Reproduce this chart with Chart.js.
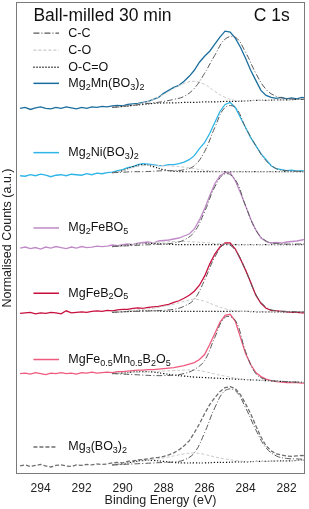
<!DOCTYPE html>
<html>
<head>
<meta charset="utf-8">
<script src="https://cdn.jsdelivr.net/npm/chart.js@4.4.0/dist/chart.umd.min.js"></script>
<style>
  html, body { margin: 0; padding: 0; background: #fff; }
</style>
</head>
<body>
<canvas id="xpsChart" width="309" height="509"></canvas>
<script>
// binding energy grid of the measured spectra (eV)
const energy = [
  295, 294.75, 294.5, 294.25,
  294, 293.75, 293.5, 293.25,
  293, 292.75, 292.5, 292.25,
  292, 291.75, 291.5, 291.25,
  291, 290.75, 290.5, 290.25,
  290, 289.75, 289.5, 289.25,
  289, 288.75, 288.5, 288.25,
  288, 287.75, 287.5, 287.25,
  287, 286.75, 286.5, 286.25,
  286, 285.75, 285.5, 285.25,
  285, 284.75, 284.5, 284.25,
  284, 283.75, 283.5, 283.25,
  283, 282.75, 282.5, 282.25,
  282, 281.75, 281.5, 281.25,
  281
];
// energy grid of the fitted components (eV)
const fitEnergy = [290.5, 290, 289.5, 289, 288.5, 288, 287.5, 287, 286.5, 286,
                   285.5, 285, 284.5, 284, 283.5, 283, 282.5, 282, 281.5, 281];

const samples = ['Mg_{2}Mn(BO_{3})_{2}', 'Mg_{2}Ni(BO_{3})_{2}', 'Mg_{2}FeBO_{5}',
                 'MgFeB_{2}O_{5}', 'MgFe_{0.5}Mn_{0.5}B_{2}O_{5}', 'Mg_{3}(BO_{3})_{2}'];
const componentNames = ['C-C', 'C-O', 'O-C=O'];
// vertical stacking offset of each spectrum
const offsets = [364, 297, 225, 160, 100, 8];
const xTicks = [294, 292, 290, 288, 286, 284, 282];

// ---- measured counts ----
const mnCounts = [
  0, 1, -1, 0.5,   1.5, 0, -0.5, 1,   0, 1.5, 0.5, -0.5,   1, 0, 1.5, 1,
  2, 1.5, 2.5, 3,   2.5, 4, 4.5, 5,   6, 7, 9, 11,   15, 18, 21, 23,
  27, 32, 38, 46,   52, 57, 64, 71,   77, 76, 70, 61,   50, 38, 28, 18,
  13, 11, 10, 11,   9.5, 10.5, 9.5, 11,   10
];
const niCounts = [
  0, -0.5, 1, 0,   1.5, 0.5, -1, 0.5,   1, 0, 1.5, 1,   0.5, 2, 1, 2.5,
  2, 3, 3.5, 5,   6, 8, 9, 11,   12, 11.5, 11, 10,   10, 11, 11, 12,
  13.5, 16, 20, 27,   33, 42, 53, 64,   71, 73, 68, 58,   48, 38, 30, 22,
  16, 10, 7, 6,   5, 5.5, 4.5, 5,   4
];
const feBoCounts = [
  0, 1, -0.5, 0.5,   -1, 1, 0, 1.5,   0.5, -0.5, 1, 0,   1.5, 0.5, 1, 2,
  1.5, 2, 3, 2.5,   3.5, 4, 3.5, 5,   5.5, 6, 5, 7,   7.5, 8, 9, 10,
  12, 14, 19, 28,   39, 52, 64, 72,   75, 75, 67, 55,   42, 29, 18, 10,
  6.5, 5, 5.5, 5,   6, 6.5, 7, 8,   9
];
const feB2Counts = [
  0, 0.5, 1, -0.5,   0.5, 0, 1, 0.5,   -0.5, 2.5, 0.5, 1,   1.5, 1, 2, 2.5,
  2, 3, 2.5, 3.5,   4, 4, 5, 5.5,   5, 6, 6.5, 7,   8, 9, 11, 12.5,
  15, 18, 22, 28,   37, 49, 59, 66,   70, 70, 64, 54,   43, 31, 18, 10,
  5, 3, 2.5, 2,   1.5, 1, 1, 0.5,   0.5
];
const feMnCounts = [
  0, 0.5, -0.5, 1,   0, -1, 0.5, 0,   1, 0, 0.5, -0.5,   1, 0.5, 1.5, 0.5,
  1, 1.5, 1, 2,   2, 2.5, 3, 3.5,   3.5, 4, 4, 4.5,   5, 5.5, 6, 7,
  8, 9.5, 11, 14,   19, 29, 40, 51,   58, 59, 52, 36,   20, 9, 1, -3,
  -5.5, -7, -8, -8.5,   -9, -9, -9, -9.5,   -9.5
];
const mg3Counts = [
  0, 1, -0.5, 0.5,   1.5, 0, -1, 0.5,   1, 0, -0.5, 1,   0.5, 1.5, 1, 2,
  1.5, 2, 3, 3.5,   3, 4.5, 5, 6,   6.5, 7, 8, 8.5,   9.5, 11, 13, 16,
  20, 25, 33, 42,   52, 61, 68, 74,   78, 79, 77, 71,   62, 52, 40, 29,
  20, 15, 12, 11,   10, 9.5, 10, 10.5,   10
];

// ---- fitted components (each includes the background) ----
const mnCC  = [1, 2, 3, 4.5, 5.5, 7, 9, 12, 20, 35, 53, 69, 71, 56, 35, 19, 12, 10, 9, 9];
const mnCO  = [1, 2, 3.5, 5.5, 9, 14, 20, 25, 27, 24, 17, 11, 8, 7.5, 8, 8, 8.5, 8.5, 9, 9];
const mnOCO = [1, 2, 3, 4, 5, 5.5, 5.5, 6, 6, 6.5, 6.5, 7, 7, 7.5, 8, 8, 8.5, 8.5, 9, 9];

const niCC  = [3, 3.5, 4, 4, 4.5, 5, 5, 6, 10, 24, 48, 68, 68, 48, 30, 15, 7, 5, 4.5, 4];
const niCO  = [3, 5, 8, 10, 10.5, 10, 9.5, 8.5, 7, 5.5, 4.5, 4, 4, 4, 4, 4, 4, 4, 4, 4];
const niOCO = [3, 5, 9, 11, 9, 6, 4.5, 4, 4, 4, 4, 4, 4, 4, 4, 4, 4, 4, 4, 4];

const feBoCC  = [1.5, 2, 2.5, 3, 3.5, 4, 5, 8, 16, 36, 61, 74, 68, 42, 18, 7, 4.5, 4, 4, 4];
const feBoCO  = [1.5, 2.5, 3.5, 4.5, 5.5, 6, 6.5, 6.5, 6, 5.5, 4.5, 4, 3.5, 3.5, 3.5, 3.5, 3.5, 3.5, 3.5, 3.5];
const feBoOCO = [1.5, 2.5, 3.5, 4.5, 4.5, 4, 3.5, 3.5, 3.5, 3.5, 3.5, 3.5, 3.5, 3.5, 3.5, 3.5, 3.5, 3.5, 3.5, 3.5];

const feB2CC  = [1, 1.5, 2, 2, 2.5, 3, 4, 7, 14, 33, 56, 69, 63, 43, 19, 6, 2.5, 2, 1.5, 1.5];
const feB2CO  = [1.5, 2, 3, 4, 5, 7, 9, 12, 14, 12, 8, 4.5, 2.5, 2, 2, 1.5, 1.5, 1.5, 1.5, 1.5];
const feB2OCO = [1, 1.5, 2, 2.5, 2.5, 2, 2, 2, 2, 2, 2, 2, 2, 2, 1.5, 1.5, 1.5, 1.5, 1.5, 1.5];

const feMnCC  = [0, -0.5, -1, -1.5, -2, -2, -1.5, 0, 4, 13, 36, 56, 53, 22, 0, -6, -7.5, -8, -8.5, -9];
const feMnCO  = [0, 0.5, 1, 1.5, 2, 2.5, 3, 3.5, 3.5, 2, -0.5, -2.5, -4.5, -6, -6.5, -7, -7.5, -8, -8.5, -9];
const feMnOCO = [0, 0.5, 1.5, 2, 1.5, 0, -1.5, -2.5, -3.5, -4, -4.5, -5, -5.5, -6, -6.5, -7, -7.5, -8, -8.5, -9];

const mg3CC  = [1, 1.5, 2, 2.5, 3, 3.5, 4, 6, 13, 33, 58, 75, 75, 58, 36, 18, 10, 7.5, 7, 6.5];
const mg3CO  = [1, 2, 3.5, 5, 6.5, 8, 10, 12, 13, 11.5, 9, 7, 5.5, 4.5, 4.5, 4.5, 5, 5, 5.5, 6];
const mg3OCO = [1, 2, 4, 5.5, 5.5, 4.5, 3.5, 3, 3, 3, 3.5, 3.5, 4, 4, 4.5, 4.5, 5, 5, 5.5, 6];

const counts = [mnCounts, niCounts, feBoCounts, feB2Counts, feMnCounts, mg3Counts];
const fits = [
  [mnCC, mnCO, mnOCO], [niCC, niCO, niOCO], [feBoCC, feBoCO, feBoOCO],
  [feB2CC, feB2CO, feB2OCO], [feMnCC, feMnCO, feMnOCO], [mg3CC, mg3CO, mg3OCO]
];

// ---- styles ----
const FONT = '"Liberation Sans", Arial, Helvetica, sans-serif';
const sampleColors = ['#1a6e9e', '#2db5e8', '#c08ac8', '#c8103e', '#ef5a7e', '#6e6e6e'];
const sampleDash = [[], [], [], [], [], [4, 2]];
const compStyles = [
  { color: '#5a5a5a', dash: [6, 2, 1, 2], width: 1 },   // C-C
  { color: '#c9c9c9', dash: [3, 2], width: 1 },          // C-O
  { color: '#111111', dash: [1.2, 1.8], width: 1.2 }     // O-C=O
];
// label heights (in axis units) for each spectrum name
const labelY = [389, 320, 245, 180, 114, 27];
const legendY = [439, 422, 405];

const datasets = [];
counts.forEach(function(arr, s) {
  fits[s].forEach(function(comp, c) {
    datasets.push({
      label: componentNames[c],
      data: comp.map(function(v, i) { return { x: fitEnergy[i], y: v + offsets[s] }; }),
      borderColor: compStyles[c].color,
      borderDash: compStyles[c].dash,
      borderWidth: compStyles[c].width,
      pointRadius: 0,
      tension: 0.4,
      fill: false,
      order: 1
    });
  });
  datasets.push({
    label: samples[s],
    data: arr.map(function(v, i) { return { x: energy[i], y: v + offsets[s] }; }),
    borderColor: sampleColors[s],
    borderDash: sampleDash[s],
    borderWidth: 1.3,
    pointRadius: 0,
    tension: 0,
    fill: false,
    order: 2
  });
});

// text with _{...} subscripts
function drawRich(ctx, txt, x, y, size) {
  const parts = txt.split(/(_\{[^}]*\})/);
  let cx = x;
  parts.forEach(function(p) {
    if (!p) return;
    const sub = p.indexOf('_{') === 0;
    const s = sub ? p.slice(2, -1) : p;
    ctx.font = (sub ? size * 0.72 : size) + 'px ' + FONT;
    ctx.fillText(s, cx, sub ? y + size * 0.3 : y);
    cx += ctx.measureText(s).width;
  });
}

function legendLine(ctx, x0, x1, y, color, dash, width) {
  ctx.save();
  ctx.strokeStyle = color;
  ctx.lineWidth = width;
  ctx.setLineDash(dash);
  ctx.beginPath();
  ctx.moveTo(x0, y);
  ctx.lineTo(x1, y);
  ctx.stroke();
  ctx.restore();
}

const annotations = {
  id: 'annotations',
  afterDraw: function(chart) {
    const ctx = chart.ctx;
    const a = chart.chartArea;
    const xs = chart.scales.x, ys = chart.scales.y;
    // frame
    ctx.save();
    ctx.strokeStyle = '#7a7a7a';
    ctx.lineWidth = 1;
    ctx.strokeRect(Math.round(a.left) + 0.5, Math.round(a.top) + 0.5,
                   Math.round(a.right - a.left) - 1, Math.round(a.bottom - a.top) - 1);
    ctx.restore();

    ctx.save();
    ctx.fillStyle = '#111';
    ctx.textBaseline = 'middle';
    ctx.textAlign = 'left';
    // headings
    ctx.font = '17.5px ' + FONT;
    ctx.fillText('Ball-milled 30 min', xs.getPixelForValue(294.35), ys.getPixelForValue(456));
    ctx.textAlign = 'right';
    ctx.fillText('C 1s', xs.getPixelForValue(281.85), ys.getPixelForValue(456));
    ctx.textAlign = 'left';

    const lx0 = xs.getPixelForValue(294.35);
    const lx1 = xs.getPixelForValue(293.1);
    const tx = xs.getPixelForValue(292.65);
    // component legend
    componentNames.forEach(function(name, c) {
      const y = ys.getPixelForValue(legendY[c]);
      legendLine(ctx, lx0, lx1, y, compStyles[c].color, compStyles[c].dash, compStyles[c].width + 0.2);
      ctx.fillStyle = '#111';
      drawRich(ctx, name, tx, y, 12.5);
    });
    // sample labels
    samples.forEach(function(name, s) {
      const y = ys.getPixelForValue(labelY[s]);
      legendLine(ctx, lx0, s === 5 ? xs.getPixelForValue(293.25) : lx1, y, sampleColors[s], sampleDash[s], 1.5);
      ctx.fillStyle = '#111';
      drawRich(ctx, name, tx, y, 12.5);
    });
    ctx.restore();
  }
};

new Chart(document.getElementById('xpsChart').getContext('2d'), {
  type: 'line',
  data: { datasets: datasets },
  options: {
    responsive: false,
    animation: false,
    devicePixelRatio: 1,
    layout: { padding: { top: 2, right: 4, left: 0, bottom: 0 } },
    scales: {
      x: {
        type: 'linear',
        reverse: true,
        min: 281.1,
        max: 295.2,
        afterBuildTicks: function(scale) {
          scale.ticks = xTicks.map(function(v) { return { value: v }; });
        },
        afterFit: function(scale) { scale.height = 35; },
        ticks: { font: { size: 12, family: FONT }, color: '#222', padding: -1, maxRotation: 0 },
        grid: { display: false },
        border: { display: false },
        title: {
          display: true, text: 'Binding Energy (eV)', color: '#222',
          font: { size: 12.5, family: FONT }, padding: { top: 0, bottom: 1 }
        }
      },
      y: {
        min: 0,
        max: 470,
        afterFit: function(scale) { scale.width = 16; },
        ticks: { display: false },
        grid: { display: false },
        border: { display: false },
        title: {
          display: true, text: 'Normalised Counts (a.u.)', color: '#222',
          font: { size: 12.5, family: FONT }, padding: { top: 0, bottom: 1 }
        }
      }
    },
    plugins: {
      legend: { display: false },
      tooltip: { enabled: false }
    }
  },
  plugins: [annotations]
});
</script>
</body>
</html>
